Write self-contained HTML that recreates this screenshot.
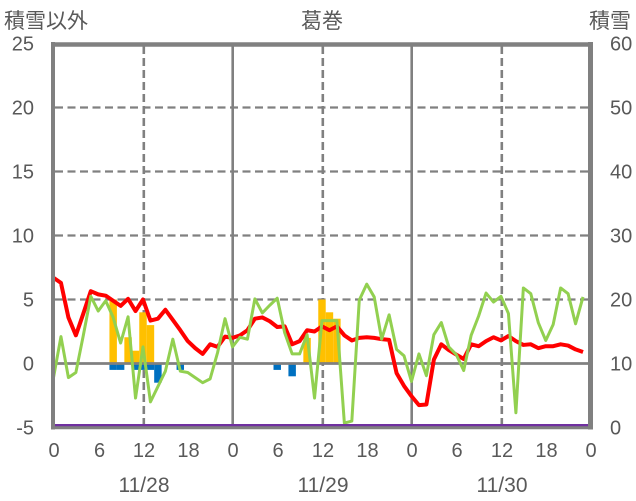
<!DOCTYPE html>
<html>
<head>
<meta charset="utf-8">
<style>
  html,body{margin:0;padding:0;background:#fff;}
  svg{display:block;}
  text{font-family:"Liberation Sans","Noto Sans CJK JP",sans-serif;fill:#595959;}
</style>
</head>
<body>
<svg width="636" height="501" viewBox="0 0 636 501" xmlns="http://www.w3.org/2000/svg">
  <rect x="0" y="0" width="636" height="501" fill="#fff"/>

  <!-- titles -->
  <text x="4" y="28" font-size="21">積雪以外</text>
  <text x="322" y="28" font-size="21" text-anchor="middle">葛巻</text>
  <text x="589" y="28" font-size="21">積雪</text>

  <!-- horizontal dashed gridlines -->
  <g stroke="#808080" stroke-width="2.3" stroke-dasharray="8 4.5" fill="none">
    <line x1="55" y1="107.5" x2="589" y2="107.5"/>
    <line x1="55" y1="171.5" x2="589" y2="171.5"/>
    <line x1="55" y1="235.5" x2="589" y2="235.5"/>
    <line x1="55" y1="299.5" x2="589" y2="299.5"/>
  </g>
  <!-- vertical dashed gridlines (12h) -->
  <g stroke="#808080" stroke-width="2.6" stroke-dasharray="8 4" fill="none">
    <line x1="143.8" y1="46" x2="143.8" y2="426"/>
    <line x1="322.8" y1="46" x2="322.8" y2="426"/>
    <line x1="501.8" y1="46" x2="501.8" y2="426"/>
  </g>
  <!-- vertical solid day boundaries -->
  <g stroke="#808080" stroke-width="2.6" fill="none">
    <line x1="232.7" y1="46" x2="232.7" y2="426"/>
    <line x1="411.7" y1="46" x2="411.7" y2="426"/>
  </g>

  <!-- data group: x = hours, y = value (left axis) -->
  <g transform="translate(53.5,363.5) scale(7.458,-12.8)">
    <!-- orange bars -->
    <g fill="#FFC000">
      <rect x="7.5" y="0" width="1" height="5.0"/>
      <rect x="9.5" y="0" width="1" height="2.05"/>
      <rect x="10.5" y="0" width="1" height="1.0"/>
      <rect x="11.5" y="0" width="1" height="4.0"/>
      <rect x="12.5" y="0" width="1" height="3.0"/>
      <rect x="33.5" y="0" width="1" height="2.0"/>
      <rect x="35.5" y="0" width="1" height="5.0"/>
      <rect x="36.5" y="0" width="1" height="4.0"/>
      <rect x="37.5" y="0" width="1" height="3.5"/>
    </g>
    <!-- blue bars -->
    <g fill="#0070C0">
      <rect x="7.5" y="-0.5" width="1" height="0.5"/>
      <rect x="8.5" y="-0.5" width="1" height="0.5"/>
      <rect x="10.5" y="-0.5" width="1" height="0.5"/>
      <rect x="11.5" y="-0.5" width="1" height="0.5"/>
      <rect x="12.5" y="-0.5" width="1" height="0.5"/>
      <rect x="13.5" y="-1.5" width="1" height="1.5"/>
      <rect x="16.5" y="-0.5" width="1" height="0.5"/>
      <rect x="29.5" y="-0.5" width="1" height="0.5"/>
      <rect x="31.5" y="-1.0" width="1" height="1.0"/>
    </g>
  </g>

  <!-- zero line -->
  <line x1="55" y1="363.5" x2="589" y2="363.5" stroke="#808080" stroke-width="2.7"/>

  <g transform="translate(53.5,363.5) scale(7.458,-12.8)">
    <!-- red line -->
    <polyline fill="none" stroke="#FF0000" stroke-width="4" stroke-linejoin="round" vector-effect="non-scaling-stroke"
      points="0,6.7 1,6.3 2,3.6 3,2.2 4,3.9 5,5.65 6,5.4 7,5.3 8,4.9 9,4.5 10,5.05 11,4.1 12,5.0 13,3.35 14,3.5 15,4.2 16,3.4 17,2.6 18,1.75 19,1.2 20,0.75 21,1.5 22,1.3 23,2.1 24,2.0 25,2.2 26,2.6 27,3.5 28,3.6 29,3.3 30,2.85 31,2.9 32,1.5 33,1.75 34,2.6 35,2.5 36,2.9 37,2.6 38,2.9 39,2.2 40,1.8 41,2.0 42,2.05 43,2.0 44,1.9 45,1.85 46,-0.75 47,-1.75 48,-2.55 49,-3.25 50,-3.2 51,0.3 52,1.5 53,1.05 54,0.7 55,0.35 56,1.5 57,1.35 58,1.75 59,2.05 60,1.8 61,2.15 62,1.75 63,1.45 64,1.5 65,1.2 66,1.35 67,1.35 68,1.5 69,1.4 70,1.1 71,0.9"/>
    <!-- green line -->
    <polyline fill="none" stroke="#92D050" stroke-width="3" stroke-linejoin="round" vector-effect="non-scaling-stroke"
      points="0,-1.1 1,2.1 2,-1.1 3,-0.7 4,2.2 5,5.25 6,4.1 7,4.9 8,3.6 9,1.6 10,3.65 11,-2.7 12,1.3 13,-3.0 14,-1.8 15,-0.6 16,1.9 17,-0.6 18,-0.7 19,-1.1 20,-1.5 21,-1.2 22,0.85 23,3.5 24,1.3 25,2.05 26,1.9 27,5.05 28,3.95 29,4.55 30,5.1 31,2.4 32,0.75 33,0.75 34,2.25 35,-2.7 36,3.35 37,3.35 38,3.35 39,-4.65 40,-4.5 41,4.95 42,6.2 43,5.2 44,1.9 45,3.8 46,1.1 47,0.6 48,-1.4 49,0.75 50,-0.95 51,2.25 52,3.2 53,1.3 54,0.7 55,-0.55 56,2.2 57,3.7 58,5.5 59,4.8 60,5.25 61,3.9 62,-3.85 63,5.9 64,5.45 65,3.2 66,1.8 67,3.05 68,5.9 69,5.45 70,3.1 71,5.2"/>
  </g>

  <!-- purple snow depth line -->
  <line x1="54" y1="425.3" x2="588" y2="425.3" stroke="#7030A0" stroke-width="2.6"/>

  <!-- plot border -->
  <g stroke="#808080" fill="none">
    <line x1="53" y1="42" x2="53" y2="429.5" stroke-width="4"/>
    <line x1="51" y1="44.5" x2="593" y2="44.5" stroke-width="4.5"/>
    <line x1="590.5" y1="42" x2="590.5" y2="429.5" stroke-width="5"/>
    <line x1="51" y1="427.8" x2="593" y2="427.8" stroke-width="3"/>
  </g>

  <!-- left axis labels -->
  <g font-size="20" text-anchor="end">
    <text x="34" y="50.5">25</text>
    <text x="34" y="114.5">20</text>
    <text x="34" y="178.5">15</text>
    <text x="34" y="242.5">10</text>
    <text x="34" y="306.5">5</text>
    <text x="34" y="370.5">0</text>
    <text x="34" y="434.5">-5</text>
  </g>
  <!-- right axis labels -->
  <g font-size="20">
    <text x="610" y="50.5">60</text>
    <text x="610" y="114.5">50</text>
    <text x="610" y="178.5">40</text>
    <text x="610" y="242.5">30</text>
    <text x="610" y="306.5">20</text>
    <text x="610" y="370.5">10</text>
    <text x="610" y="434.5">0</text>
  </g>
  <!-- bottom hour labels -->
  <g font-size="20" text-anchor="middle">
    <text x="54" y="457">0</text>
    <text x="99.5" y="457">6</text>
    <text x="144" y="457">12</text>
    <text x="188.5" y="457">18</text>
    <text x="233" y="457">0</text>
    <text x="278" y="457">6</text>
    <text x="323" y="457">12</text>
    <text x="367.5" y="457">18</text>
    <text x="412" y="457">0</text>
    <text x="457" y="457">6</text>
    <text x="502" y="457">12</text>
    <text x="546.5" y="457">18</text>
    <text x="591" y="457">0</text>
  </g>
  <!-- date labels -->
  <g font-size="21" text-anchor="middle">
    <text x="144" y="492">11/28</text>
    <text x="323" y="492">11/29</text>
    <text x="502" y="492">11/30</text>
  </g>
</svg>
</body>
</html>
